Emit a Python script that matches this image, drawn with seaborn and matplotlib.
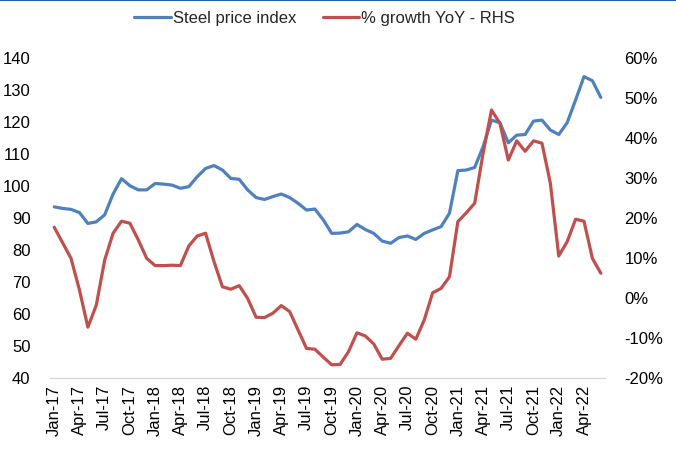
import numpy as np
import pandas as pd
import matplotlib
matplotlib.use("Agg")
import matplotlib.pyplot as plt
from matplotlib.lines import Line2D
from matplotlib.ticker import FuncFormatter
import seaborn as sns

# monthly, Jan-17 .. Jun-22
months = pd.date_range("2017-01-01", periods=66, freq="MS")

steel_index = [
    93.5, 93.0, 92.7, 91.7, 88.3, 88.8, 91.0, 97.5, 102.3, 100.1, 98.8, 98.8,
    100.8, 100.6, 100.3, 99.3, 99.8, 102.9, 105.5, 106.4, 105.0, 102.4, 102.1, 98.8,
    96.4, 95.8, 96.7, 97.5, 96.4, 94.6, 92.5, 92.8, 89.4, 85.2, 85.3, 85.7,
    88.0, 86.4, 85.2, 82.8, 82.1, 83.9, 84.4, 83.3, 85.2, 86.3, 87.3, 91.5,
    104.8, 105.0, 105.8, 112.3, 120.6, 119.8, 113.5, 115.9, 116.1, 120.3, 120.6, 117.5,
    116.1, 119.8, 126.9, 134.2, 132.9, 127.7,
]

growth_yoy = [
    17.7, 13.8, 9.9, 2.0, -7.3, -1.8, 9.5, 16.2, 19.2, 18.7, 14.5, 9.9,
    8.1, 8.1, 8.2, 8.1, 13.0, 15.5, 16.2, 9.1, 2.8, 2.2, 3.1, -0.1,
    -4.8, -4.9, -3.8, -1.9, -3.4, -8.0, -12.6, -12.8, -14.8, -16.7, -16.6, -13.4,
    -8.7, -9.5, -11.5, -15.3, -15.1, -11.9, -8.8, -10.3, -5.5, 1.3, 2.4, 5.3,
    19.1, 21.3, 23.7, 36.2, 47.0, 43.7, 34.5, 39.3, 36.7, 39.3, 38.7, 28.7,
    10.5, 14.1, 19.7, 19.2, 9.9, 6.2,
]

tick_pos = list(range(0, 66, 3))
tick_labels = [months[i].strftime("%b-%y") for i in tick_pos]

blue = "#4F81BD"
red = "#C0504D"

sns.set_style("white")
plt.rcParams["font.family"] = ["Liberation Sans", "DejaVu Sans"]
plt.rcParams["font.size"] = 12

df = pd.DataFrame({"pos": np.arange(len(months)), "steel": steel_index, "growth": growth_yoy})

fig = plt.figure(figsize=(6.76, 4.5), dpi=100)
ax = fig.add_axes([0.074, 0.16, 0.821, 0.711])
ax2 = ax.twinx()

sns.lineplot(data=df, x="pos", y="steel", ax=ax, color=blue, linewidth=2.3)
sns.lineplot(data=df, x="pos", y="growth", ax=ax2, color=red, linewidth=2.3)

ax.set_xlim(-0.5, 65.5)
ax.set_ylim(40, 140)
ax.set_yticks(range(40, 141, 10))
ax2.set_ylim(-20, 60)
ax2.set_yticks(range(-20, 61, 10))
ax2.yaxis.set_major_formatter(FuncFormatter(lambda v, p: f"{v:.0f}%"))

ax.set_xticks(tick_pos)
ax.set_xticklabels(tick_labels, rotation=90)
ax.set_xlabel("")
ax.set_ylabel("")
ax2.set_ylabel("")

for a in (ax, ax2):
    for s in a.spines.values():
        s.set_visible(False)
    a.tick_params(length=0, labelsize=12, colors="#000000")
ax.spines["bottom"].set_visible(True)
ax.spines["bottom"].set_color("#D9D9D9")
ax.spines["bottom"].set_linewidth(1.0)
ax.tick_params(axis="y", pad=14)
ax.tick_params(axis="x", pad=5)
ax2.tick_params(axis="y", pad=14)

handles = [Line2D([], [], color=blue, linewidth=2.3),
           Line2D([], [], color=red, linewidth=2.3)]
fig.legend(handles, ["Steel price index", "% growth YoY - RHS"], loc="center",
           bbox_to_anchor=(0.48, 0.96), ncol=2, frameon=False, fontsize=12,
           handlelength=2.2, handletextpad=0.1, columnspacing=1.6)

# thin frame line along the top edge
fig.add_artist(Line2D([0, 1], [0.999, 0.999], color="#1F5FA8", linewidth=1.5,
                      transform=fig.transFigure))

fig.savefig("out.png", dpi=100)
